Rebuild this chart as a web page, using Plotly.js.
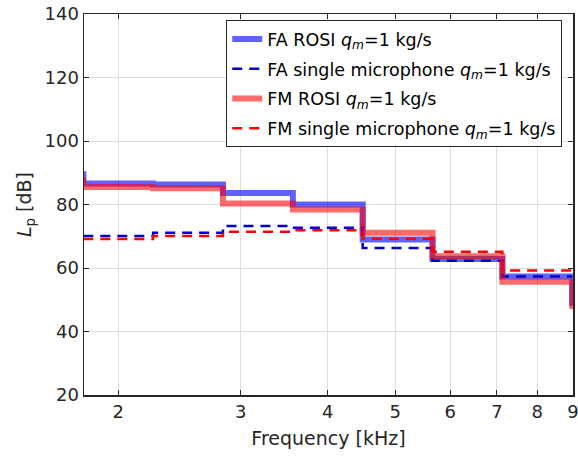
<!DOCTYPE html>
<html>
<head>
<meta charset="utf-8">
<script src="https://cdn.plot.ly/plotly-3.0.1.min.js"></script>
<style>
  html, body { margin: 0; padding: 0; background: #ffffff; }
  #chart { width: 578px; height: 462px; }
</style>
</head>
<body>
<div id="chart"></div>
<script>
// One-third-octave band edges in kHz (lower edge of each band, last entry is the upper edge)
const bandEdges = [1.413, 1.782, 2.245, 2.828, 3.564, 4.490, 5.657, 7.127, 8.980, 11.31];

// Band levels in dB, ROSI results cover the 1.6 kHz .. 10 kHz bands
const faRosi = [89.5, 86.6, 86.3, 83.6, 80.0, 69.0, 62.8, 57.3, 49.0];
const fmRosi = [87.5, 85.5, 85.1, 80.3, 78.4, 71.1, 63.7, 55.7, 48.0];

// Single microphone results cover the 2 kHz .. 8 kHz bands
const faSingle = [70.1, 71.1, 73.2, 72.7, 66.3, 62.3, 57.3];
const fmSingle = [69.1, 70.1, 71.4, 71.9, 69.2, 65.1, 59.2];

const xTicks = [2, 3, 4, 5, 6, 7, 8, 9];
const xTickText = ['2', '3', '4', '5', '6', '7', '8', '9'];

// Build a staircase: each band is a flat segment from its lower to its upper edge
function staircase(levels, firstEdge) {
  const x = [];
  const y = [];
  for (let i = 0; i < levels.length; i++) {
    x.push(bandEdges[firstEdge + i]);
    y.push(levels[i]);
  }
  x.push(bandEdges[firstEdge + levels.length]);
  y.push(levels[levels.length - 1]);
  return { x, y };
}

const qm = '<i>q</i><sub><i>m</i></sub>=1 kg/s';

const sFaRosi = staircase(faRosi, 0);
const sFaSingle = staircase(faSingle, 1);
const sFmRosi = staircase(fmRosi, 0);
const sFmSingle = staircase(fmSingle, 1);

const traces = [
  {
    x: sFaRosi.x, y: sFaRosi.y, type: 'scatter', mode: 'lines',
    name: 'FA ROSI ' + qm, legendgroup: 'a',
    line: { shape: 'hv', color: 'rgba(0,0,255,0.62)', width: 6 }
  },
  {
    x: sFaSingle.x, y: sFaSingle.y, type: 'scatter', mode: 'lines',
    name: 'FA single microphone ' + qm, legendgroup: 'b',
    line: { shape: 'hv', color: '#0000c8', width: 2.5, dash: '10px,7px' }
  },
  {
    x: sFmRosi.x, y: sFmRosi.y, type: 'scatter', mode: 'lines',
    name: 'FM ROSI ' + qm, legendgroup: 'c',
    line: { shape: 'hv', color: 'rgba(255,0,0,0.58)', width: 6 }
  },
  {
    x: sFmSingle.x, y: sFmSingle.y, type: 'scatter', mode: 'lines',
    name: 'FM single microphone ' + qm, legendgroup: 'd',
    line: { shape: 'hv', color: '#ff0000', width: 2.5, dash: '10px,7px' }
  }
];

const fontFamily = 'DejaVu Sans, Arial, sans-serif';

const layout = {
  width: 578,
  height: 462,
  margin: { l: 84, r: 5, t: 14, b: 67 },
  paper_bgcolor: '#ffffff',
  plot_bgcolor: '#ffffff',
  font: { family: fontFamily, size: 18, color: '#262626' },
  showlegend: true,
  legend: {
    x: 0.978, y: 0.984, xanchor: 'right', yanchor: 'top',
    bgcolor: '#ffffff', bordercolor: '#262626', borderwidth: 1,
    font: { family: fontFamily, size: 17.5, color: '#000000' },
    traceorder: 'grouped',
    tracegroupgap: 4
  },
  xaxis: {
    type: 'log',
    range: [Math.log10(1.786), Math.log10(9.003)],
    tickvals: xTicks,
    ticktext: xTickText,
    ticklabeloverflow: 'allow',
    ticks: 'inside', ticklen: 5, tickwidth: 1, tickcolor: '#262626',
    showline: true, linecolor: '#262626', linewidth: 1.5, mirror: 'ticks',
    showgrid: true, gridcolor: '#dedede', gridwidth: 1,
    zeroline: false,
    tickfont: { family: fontFamily, size: 18, color: '#262626' },
    title: { text: 'Frequency [kHz]', font: { family: fontFamily, size: 19, color: '#262626' }, standoff: 10 }
  },
  yaxis: {
    range: [20, 140],
    tickvals: [20, 40, 60, 80, 100, 120, 140],
    ticks: 'inside', ticklen: 5, tickwidth: 1, tickcolor: '#262626',
    showline: true, linecolor: '#262626', linewidth: 1.5, mirror: 'ticks',
    showgrid: true, gridcolor: '#dedede', gridwidth: 1,
    zeroline: false,
    tickfont: { family: fontFamily, size: 18, color: '#262626' },
    title: { text: '<i>L</i><sub>p</sub> [dB]', font: { family: fontFamily, size: 19, color: '#262626' }, standoff: 8 }
  }
};

Plotly.newPlot('chart', traces, layout, { displayModeBar: false, staticPlot: true });
</script>
</body>
</html>
